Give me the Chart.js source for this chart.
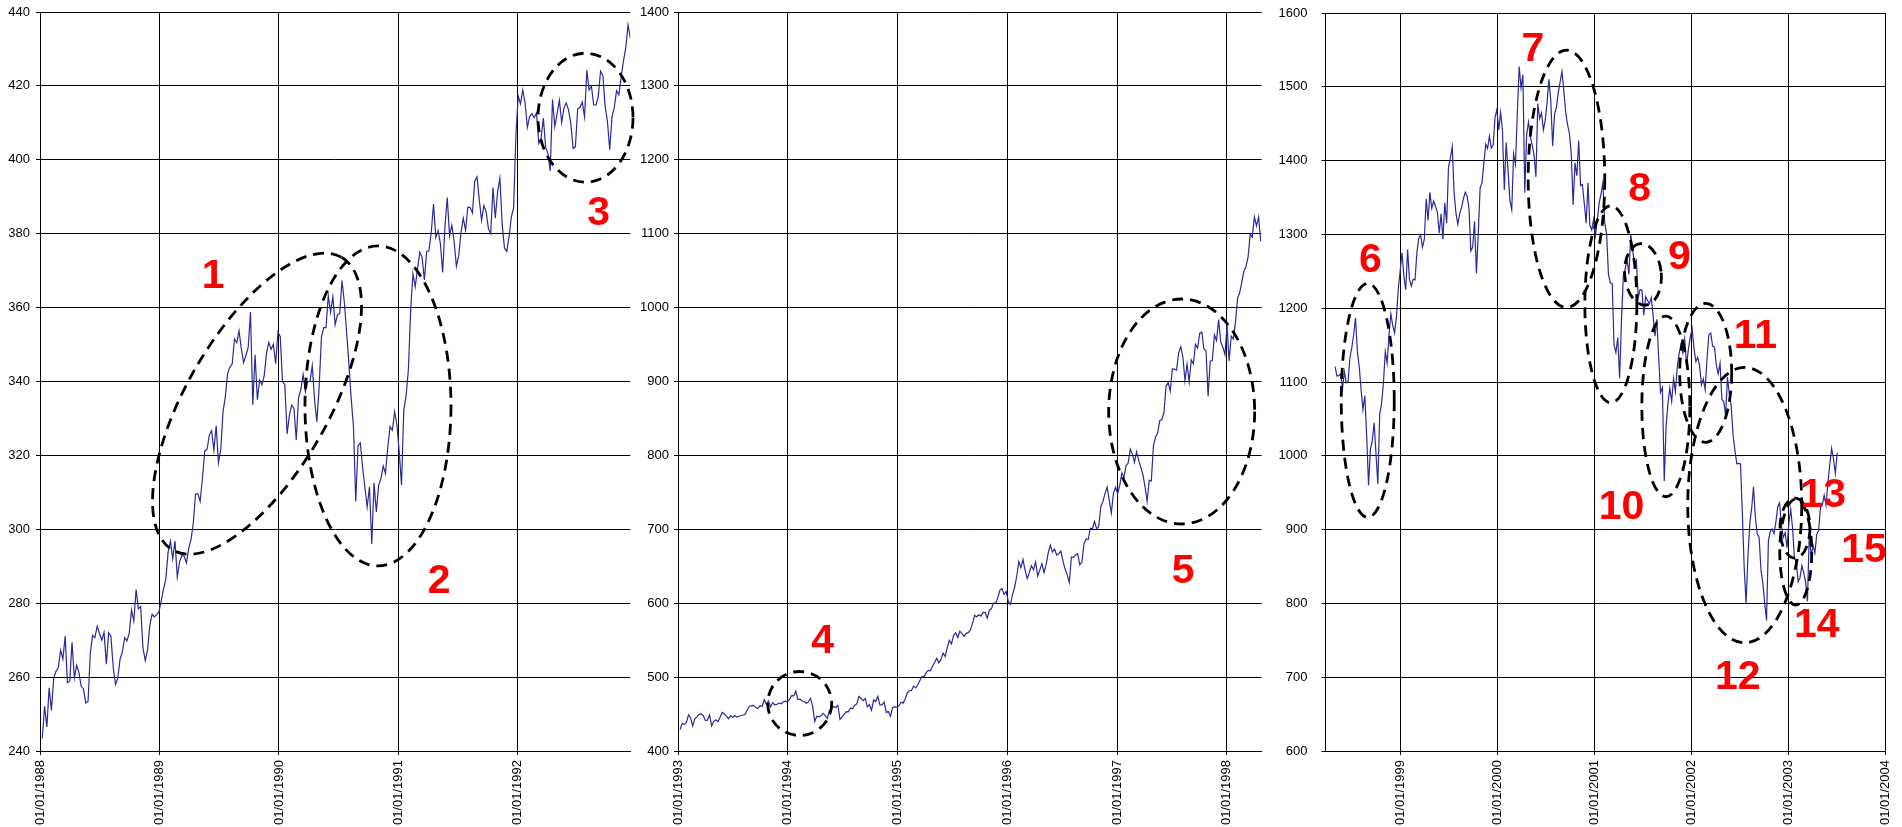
<!DOCTYPE html>
<html>
<head>
<meta charset="utf-8">
<script src="https://cdn.jsdelivr.net/npm/chart.js@4.4.1/dist/chart.umd.min.js"></script>
<style>
  html, body { margin: 0; padding: 0; background: #fff; }
  #wrap { position: relative; width: 1902px; height: 827px; overflow: hidden; background: #fff; }
  #wrap canvas { position: absolute; top: 0; }
</style>
</head>
<body>
<div id="wrap">
  <canvas id="p1" width="640" height="827" style="left:0px"></canvas>
  <canvas id="p2" width="622" height="827" style="left:640px"></canvas>
  <canvas id="p3" width="640" height="827" style="left:1262px"></canvas>
</div>
<script>
// S&P 500 weekly closes (Friday, or the last trading day of that week)
const spx1988 = [243.4, 252.1, 246.5, 257.1,
  251.0, 259.8, 261.6, 262.5,
  267.3, 264.9, 271.1, 258.5,
  258.9, 269.4, 259.8, 263.2, 261.3,
  257.5, 256.8, 253.0, 253.4,
  266.5, 271.3, 270.7, 273.8,
  271.8, 270.0, 272.1, 263.5, 272.0,
  271.1, 262.6, 258.0, 259.7,
  264.9, 266.8, 270.7, 269.8, 271.9,
  278.1, 275.2, 283.7, 278.5,
  279.1, 267.9, 264.5, 267.2,
  274.0, 277.0, 276.3, 276.9, 277.7];
const spx1989 = [280.7, 283.9, 286.6, 293.8,
  296.8, 292.0, 296.8, 287.1,
  291.2, 292.9, 292.7, 290.9, 294.9,
  297.2, 301.7, 309.6, 309.6,
  307.6, 313.8, 321.2, 321.6,
  325.5, 326.7, 321.4, 328.0, 318.0,
  321.6, 331.8, 335.9, 342.2,
  343.9, 344.7, 351.5, 350.5,
  353.7, 348.8, 345.1, 347.1, 349.2,
  358.8, 333.7, 347.2, 335.1,
  340.4, 339.1, 341.6, 347.6,
  350.6, 348.7, 350.1, 344.8, 353.4];
const spx1990 = [352.2, 339.9, 339.2, 325.8,
  330.9, 333.6, 332.7, 324.2,
  335.5, 337.9, 341.9, 337.2, 339.9,
  340.1, 344.3, 335.1, 329.1,
  338.4, 352.0, 354.6, 354.6,
  363.2, 358.7, 362.9, 355.4, 358.0,
  358.4, 367.3, 361.6, 353.4,
  344.9, 335.5, 327.8, 307.5, 322.6,
  323.4, 316.8, 311.3, 306.1,
  311.5, 296.0, 312.5, 304.7,
  311.9, 313.7, 317.1, 315.1, 322.2,
  327.8, 326.8, 331.8, 328.3];
const spx1991 = [321.0, 312.0, 332.2, 336.1,
  343.1, 359.4, 369.1, 365.7,
  370.5, 375.0, 373.6, 367.5, 375.2,
  375.4, 380.4, 388.0, 379.0,
  380.8, 377.3, 369.5, 382.0, 389.8,
  379.4, 382.3, 377.9, 371.2,
  374.1, 380.3, 384.2, 380.9,
  387.2, 387.1, 385.6, 394.2, 395.4,
  389.1, 383.6, 387.6, 385.9,
  381.3, 380.0, 392.5, 384.2,
  391.3, 395.0, 382.6, 376.1, 375.2,
  379.1, 384.5, 387.0, 406.5];
const spx1992 = [417.3, 415.1, 418.9, 415.5, 408.8,
  411.7, 412.5, 411.4, 412.7,
  404.4, 405.8, 411.3, 403.5,
  401.6, 397.0, 416.3, 409.0,
  412.5, 416.1, 410.1, 414.0, 415.4,
  413.5, 409.8, 403.1, 403.5,
  413.8, 414.2, 415.6, 411.6, 424.2,
  418.9, 419.9, 414.9, 414.8,
  417.1, 424.0, 422.9, 414.4,
  410.5, 402.7, 411.7, 414.1, 418.7,
  417.6, 422.4, 426.7, 430.2,
  436.5, 433.0];
const spx1993 = [429.1, 437.2, 436.1, 438.8,
  448.9, 444.6, 434.0, 443.4,
  446.1, 449.8, 450.2, 447.8,
  441.4, 441.8, 448.9, 434.0, 440.2,
  442.3, 439.6, 445.8, 452.4,
  450.1, 447.3, 443.7, 447.6,
  445.8, 448.1, 445.8, 447.1, 448.1,
  448.7, 450.1, 456.2, 460.5,
  461.3, 461.7, 458.8, 457.6,
  461.3, 460.3, 469.5, 463.3, 467.8,
  459.6, 465.4, 462.6, 463.1,
  464.9, 463.9, 466.4, 467.4, 466.5];
const spx1994 = [469.9, 474.9, 474.7, 481.0,
  469.8, 470.2, 467.7, 467.0,
  464.7, 466.4, 471.1, 460.6,
  440.0, 447.1, 446.2, 447.6, 450.9,
  447.8, 444.1, 454.9, 457.3,
  460.1, 458.7, 461.9, 442.8,
  446.2, 449.6, 453.3, 453.1, 458.3,
  457.1, 461.9, 463.7, 473.8,
  471.0, 468.2, 471.2, 459.7, 462.7,
  455.1, 469.1, 466.9, 473.8,
  462.3, 462.4, 466.0, 452.3,
  453.3, 447.0, 458.8, 459.7, 459.3];
const spx1995 = [460.7, 466.0, 464.8, 470.4,
  478.7, 481.5, 482.0, 488.1,
  485.4, 489.6, 495.5, 501.0, 500.7,
  506.4, 509.2, 508.5, 514.7,
  520.1, 525.6, 519.2, 523.7,
  532.5, 527.9, 539.8, 549.7, 544.8,
  556.4, 559.9, 553.6, 562.1,
  558.9, 555.1, 559.2, 560.1,
  563.8, 572.7, 583.4, 581.7, 584.4,
  582.6, 587.5, 587.5, 579.7,
  590.6, 592.7, 600.1, 600.0,
  607.0, 617.5, 620.0, 612.0, 615.9];
const spx1996 = [602.7, 598.5, 611.4, 621.6,
  635.8, 656.4, 648.0, 659.1,
  644.4, 633.5, 641.4, 650.6, 645.5,
  655.9, 636.7, 645.1, 653.5,
  641.6, 652.1, 668.3, 678.5, 669.1,
  673.3, 665.2, 666.8, 670.6,
  657.4, 646.2, 638.7, 628.0,
  662.5, 662.1, 665.2, 667.0, 652.0,
  655.7, 680.5, 687.0, 686.2,
  701.5, 700.7, 710.8, 700.9,
  703.8, 730.8, 737.6, 748.7, 757.0,
  739.6, 722.0, 748.9, 756.8];
const spx1997 = [748.0, 759.5, 776.2, 770.5, 786.2,
  789.6, 808.5, 801.8, 790.8,
  805.0, 793.2, 784.1, 773.9,
  757.9, 737.7, 766.3, 765.4,
  813.0, 824.8, 829.8, 847.0, 848.3,
  858.0, 893.3, 898.7, 887.3,
  916.9, 916.7, 915.3, 938.8,
  947.1, 933.5, 900.8, 923.5, 899.5,
  929.1, 923.9, 950.5, 945.2,
  965.0, 967.0, 944.2, 941.6, 880.0,
  927.5, 928.4, 963.1, 955.4,
  983.8, 953.4, 946.8, 936.5];
const spx1998a = [975.0, 927.7, 961.5, 957.6, 980.3,
  1012.5, 1020.1, 1034.2, 1049.3,
  1055.7, 1068.6, 1099.2, 1095.4,
  1122.7, 1110.7, 1122.7, 1090.0];
const spx1998b = [1121.0, 1108.1, 1108.7, 1110.5, 1090.8,
  1113.9, 1098.8, 1100.7, 1133.2,
  1146.4, 1164.3, 1186.8, 1140.8, 1120.7,
  1089.5, 1062.8, 1081.2, 1027.1,
  960.0, 1009.1, 1020.1, 1044.8,
  1002.6, 962.0, 1056.4, 1070.7, 1098.7,
  1141.0, 1125.7, 1163.6, 1192.3,
  1176.7, 1166.5, 1188.0, 1226.3];
const spx1999 = [1275.1, 1243.3, 1225.2, 1279.6,
  1239.4, 1230.1, 1239.2, 1238.3,
  1275.5, 1294.6, 1299.3, 1282.8,
  1293.7, 1348.4, 1319.0, 1356.9, 1335.2,
  1345.0, 1337.8, 1330.3, 1301.8,
  1327.8, 1293.6, 1342.8, 1315.3,
  1391.2, 1403.3, 1418.8, 1356.9, 1328.7,
  1313.7, 1327.7, 1336.6, 1348.3,
  1357.2, 1351.7, 1335.4, 1277.4,
  1282.8, 1317.6, 1247.4, 1301.7, 1362.9,
  1370.2, 1396.1, 1422.0, 1416.6,
  1433.3, 1417.0, 1421.0, 1458.3, 1469.3];
const spx2000 = [1441.5, 1465.2, 1441.4, 1360.2,
  1424.4, 1387.1, 1346.1, 1333.4,
  1409.2, 1395.1, 1464.5, 1527.5, 1498.6,
  1516.4, 1356.6, 1434.5, 1452.4,
  1432.6, 1421.0, 1407.0, 1378.0,
  1477.3, 1457.0, 1464.5, 1441.5, 1454.6,
  1478.9, 1510.0, 1480.2, 1419.9,
  1462.9, 1471.8, 1491.7, 1506.5,
  1520.8, 1494.5, 1465.8, 1448.7, 1436.5,
  1409.0, 1340.0, 1396.9, 1379.6,
  1426.7, 1366.0, 1367.7, 1341.8,
  1315.2, 1369.9, 1312.2, 1306.0, 1320.3];
const spx2001 = [1298.4, 1318.6, 1342.5, 1355.0,
  1370.0, 1314.8, 1301.5, 1245.9,
  1234.2, 1233.4, 1150.5, 1139.8, 1160.3,
  1105.0, 1183.5, 1243.0, 1253.1,
  1266.6, 1245.7, 1300.0, 1277.9,
  1260.7, 1265.0, 1214.4, 1225.4, 1224.4,
  1190.6, 1215.7, 1210.9, 1205.8,
  1214.4, 1190.2, 1162.0, 1184.9, 1133.6,
  1085.8, 1092.5, 965.8, 1040.9,
  1071.4, 1091.7, 1073.5, 1104.6,
  1087.2, 1120.3, 1138.7, 1150.3, 1139.5,
  1158.3, 1123.1, 1144.9, 1161.0];
const spx2002 = [1172.5, 1145.6, 1127.6, 1133.3,
  1122.2, 1096.2, 1104.2, 1089.8,
  1131.8, 1164.3, 1166.2, 1148.7, 1147.4,
  1122.7, 1111.0, 1125.2, 1076.3,
  1073.4, 1055.0, 1106.6, 1083.8, 1067.1,
  1027.5, 1007.3, 989.1, 989.8,
  989.0, 921.4, 847.8, 800.0,
  864.2, 908.6, 928.8, 958.0, 916.1,
  893.9, 889.8, 845.4, 827.4,
  800.6, 777.0, 884.4, 897.7,
  901.0, 894.7, 909.8, 930.6, 936.3,
  906.6, 889.5, 895.8, 875.4];
const spx2003 = [908.6, 927.6, 901.8, 861.4, 855.7,
  829.7, 834.9, 851.2, 841.2,
  828.9, 803.0, 895.9, 863.5,
  878.9, 868.3, 893.6, 898.8,
  930.1, 933.4, 946.7, 933.2, 963.6,
  987.8, 1010.0, 995.7, 976.2,
  1004.0];

// Each run of closes starts on the first Friday after the given date
const panel1Runs = [['1988-01-01', spx1988], ['1989-01-01', spx1989], ['1990-01-01', spx1990],
                    ['1991-01-01', spx1991], ['1992-01-01', spx1992]];
const panel2Runs = [['1993-01-01', spx1993], ['1994-01-01', spx1994], ['1995-01-01', spx1995],
                    ['1996-01-01', spx1996], ['1997-01-01', spx1997], ['1998-01-01', spx1998a]];
const panel3Runs = [['1998-04-30', spx1998b], ['1999-01-01', spx1999], ['2000-01-01', spx2000],
                    ['2001-01-01', spx2001], ['2002-01-01', spx2002], ['2003-01-01', spx2003]];

// Axis ranges (dates) and value ticks [min, max, step]
const panel1Dates = ['1988-01-01', '1992-12-11'];
const panel2Dates = ['1993-01-01', '1998-04-27'];
const panel3Dates = ['1998-03-26', '2004-01-01'];
const panel1Values = [240, 440, 20];
const panel2Values = [400, 1400, 100];
const panel3Values = [600, 1600, 100];

// Dashed rings (centre date/value, radii in px, tilt in degrees) and numbered callouts
const rings1 = [
  { at: '1989-10-26', value: 334.0, rx: 169, ry: 71, tilt: -60 },
  { at: '1990-10-31', value: 333.4, rx: 73, ry: 160, tilt: 0 },
  { at: '1992-07-27', value: 411.4, rx: 47.5, ry: 64.5, tilt: 0 }
];
const tags1 = [
  { text: '1', at: '1989-06-14', value: 368.3 },
  { text: '2', at: '1991-05-06', value: 285.8 },
  { text: '3', at: '1992-09-05', value: 385.4 }
];
const rings2 = [
  { at: '1994-02-10', value: 464.3, rx: 32, ry: 32, tilt: 0 },
  { at: '1997-08-04', value: 859.4, rx: 73, ry: 112.5, tilt: 0 }
];
const tags2 = [
  { text: '4', at: '1994-04-27', value: 547.9 },
  { text: '5', at: '1997-08-09', value: 642.6 }
];
const rings3 = [
  { at: '1998-09-01', value: 1075.1, rx: 26.5, ry: 117, tilt: 0 },
  { at: '2000-09-18', value: 1375.3, rx: 38.3, ry: 128.7, tilt: 0 },
  { at: '2001-03-04', value: 1205.3, rx: 26, ry: 98.5, tilt: 0 },
  { at: '2001-07-03', value: 1245.9, rx: 18.3, ry: 30.8, tilt: -5 },
  { at: '2001-09-27', value: 1066.9, rx: 24, ry: 90.3, tilt: 0 },
  { at: '2002-02-24', value: 1112.5, rx: 26, ry: 69.5, tilt: 0 },
  { at: '2002-07-21', value: 933.2, rx: 57, ry: 137.7, tilt: 0 },
  { at: '2003-01-26', value: 902.0, rx: 15, ry: 30, tilt: 0 },
  { at: '2003-01-29', value: 869.5, rx: 16, ry: 53, tilt: 0 }
];
const tags3 = [
  { text: '6', at: '1998-09-11', value: 1264.5 },
  { text: '7', at: '2000-05-15', value: 1550.8 },
  { text: '8', at: '2001-06-20', value: 1360.0 },
  { text: '9', at: '2001-11-17', value: 1268.6 },
  { text: '10', at: '2001-04-13', value: 929.8 },
  { text: '11', at: '2002-08-30', value: 1161.3 },
  { text: '12', at: '2002-06-25', value: 699.5 },
  { text: '13', at: '2003-05-12', value: 945.7 },
  { text: '14', at: '2003-04-18', value: 769.5 },
  { text: '15', at: '2003-10-13', value: 871.1 }
];

const DAY = 86400000;
const LINE_COLOR = '#2a2a9a';
const FONT = "'Liberation Sans', Arial, Helvetica, sans-serif";

function toTime(s) {
  const [y, m, d] = s.split('-').map(Number);
  return Date.UTC(y, m - 1, d);
}

function weeklyPoints(runs) {
  const pts = [];
  for (const [after, closes] of runs) {
    let t = toTime(after) + DAY;
    while (new Date(t).getUTCDay() !== 5) t += DAY;
    closes.forEach((v, i) => pts.push({ x: t + i * 7 * DAY, y: v }));
  }
  return pts;
}

function yearTicks(min, max) {
  const out = [];
  for (let yr = new Date(min).getUTCFullYear(); yr <= new Date(max).getUTCFullYear() + 1; yr++) {
    const t = Date.UTC(yr, 0, 1);
    if (t >= min && t <= max) out.push({ value: t });
  }
  return out;
}

const ringPlugin = {
  id: 'rings',
  afterDatasetsDraw(chart, args, opts) {
    const { ctx } = chart;
    const xs = chart.scales.x, ys = chart.scales.y;
    ctx.save();
    ctx.strokeStyle = '#000';
    ctx.lineWidth = 2.8;
    ctx.setLineDash([11, 7]);
    for (const r of opts.rings) {
      const cx = xs.getPixelForValue(toTime(r.at));
      const cy = ys.getPixelForValue(r.value);
      ctx.beginPath();
      ctx.ellipse(cx, cy, r.rx, r.ry, r.tilt * Math.PI / 180, 0, Math.PI * 2);
      ctx.stroke();
    }
    ctx.setLineDash([]);
    ctx.fillStyle = '#ff0000';
    ctx.font = 'bold 41px ' + FONT;
    ctx.textAlign = 'center';
    ctx.textBaseline = 'middle';
    for (const t of opts.tags) {
      ctx.fillText(t.text, xs.getPixelForValue(toTime(t.at)), ys.getPixelForValue(t.value));
    }
    ctx.restore();
  }
};

Chart.defaults.font.family = FONT;
Chart.defaults.font.size = 13;
Chart.defaults.color = '#000';

function makePanel(id, p) {
  const xMin = toTime(p.dates[0]), xMax = toTime(p.dates[1]);
  return new Chart(document.getElementById(id), {
    type: 'line',
    data: {
      datasets: [{
        data: weeklyPoints(p.runs),
        borderColor: LINE_COLOR,
        borderWidth: 1.2,
        pointRadius: 0,
        tension: 0,
        fill: false
      }]
    },
    options: {
      responsive: false,
      animation: false,
      devicePixelRatio: 1,
      events: [],
      layout: { padding: { top: p.padTop, right: p.padRight, left: 0, bottom: 0 } },
      plugins: {
        legend: { display: false },
        tooltip: { enabled: false },
        rings: { rings: p.rings, tags: p.tags }
      },
      scales: {
        x: {
          type: 'linear',
          min: xMin,
          max: xMax,
          afterBuildTicks: s => { s.ticks = yearTicks(xMin, xMax); },
          afterFit: s => { s.height = 76; s.paddingLeft = 0; s.paddingRight = 0; },
          grid: { color: '#000', lineWidth: 1, tickLength: 4 },
          border: { color: '#000', width: 1 },
          ticks: {
            autoSkip: false,
            minRotation: 90,
            maxRotation: 90,
            padding: 5,
            color: '#000',
            callback: v => '01/01/' + new Date(v).getUTCFullYear()
          }
        },
        y: {
          min: p.values[0],
          max: p.values[1],
          afterFit: s => { s.width = p.axisWidth; s.paddingTop = 0; s.paddingBottom = 0; },
          grid: { color: '#000', lineWidth: 1, tickLength: 4 },
          border: { color: '#000', width: 1 },
          ticks: {
            stepSize: p.values[2],
            padding: p.labelGap,
            color: '#000',
            callback: v => String(v)
          }
        }
      }
    },
    plugins: [ringPlugin]
  });
}

makePanel('p1', { runs: panel1Runs, dates: panel1Dates, values: panel1Values,
  rings: rings1, tags: tags1, axisWidth: 40, labelGap: 6, padTop: 12, padRight: 9.7 });
makePanel('p2', { runs: panel2Runs, dates: panel2Dates, values: panel2Values,
  rings: rings2, tags: tags2, axisWidth: 38, labelGap: 5, padTop: 12, padRight: 0.4 });
makePanel('p3', { runs: panel3Runs, dates: panel3Dates, values: panel3Values,
  rings: rings3, tags: tags3, axisWidth: 63.5, labelGap: 14, padTop: 13, padRight: 16.7 });
</script>
</body>
</html>
